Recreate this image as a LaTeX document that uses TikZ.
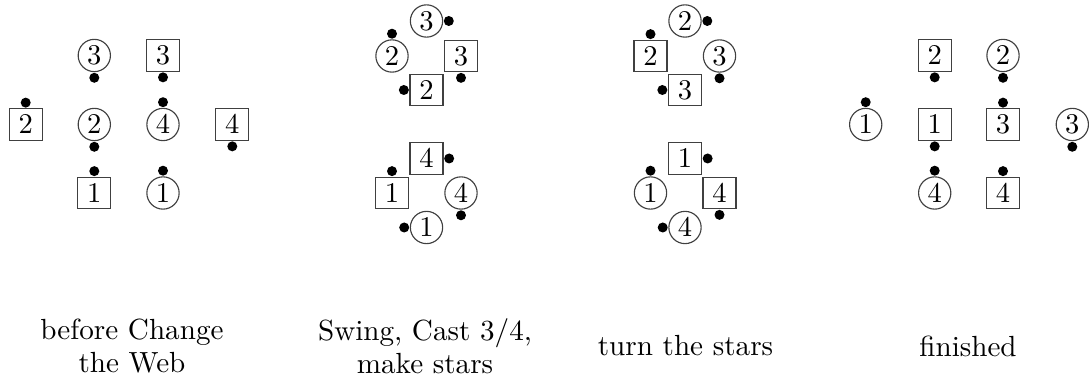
\documentclass[tikz,border=0pt]{standalone}
\usepackage{tikz}
\usetikzlibrary{positioning}
\tikzset{
  man/.style={draw=black!75, rectangle, line width=0.4pt, minimum width=11.55pt,
              minimum height=11pt, inner sep=0pt, font=\normalsize},
  woman/.style={draw=black!75, circle, line width=0.4pt, minimum size=11.3pt,
                inner sep=0pt, font=\normalsize},
  dot/.style={circle, fill=black, minimum size=3.5pt, inner sep=0pt},
  caption/.style={align=center, font=\fontsize{10.2}{11.55}\selectfont}
}
\begin{document}
\begin{tikzpicture}[x=0.35pt,y=-0.35pt]
  \useasboundingbox (0,0) rectangle (1089,381);
  % before Change the Web
  \node[woman] (bw3) at (94.3,55.5) {$3$};
  \node[man]   (bm3) at (163,55.5) {$3$};
  \node[man]   (bm2) at (25.7,124.5) {$2$};
  \node[woman] (bw2) at (94.3,124.5) {$2$};
  \node[woman] (bw4) at (163,124.5) {$4$};
  \node[man]   (bm4) at (232.3,124.5) {$4$};
  \node[man]   (bm1) at (94.3,193) {$1$};
  \node[woman] (bw1) at (163,193) {$1$};
  \node[dot,below=0pt of bw3] (bw3d) {};
  \node[dot,below=0pt of bm3] (bm3d) {};
  \node[dot,above=0pt of bm2] (bm2d) {};
  \node[dot,below=0pt of bw2] (bw2d) {};
  \node[dot,above=0pt of bw4] (bw4d) {};
  \node[dot,below=0pt of bm4] (bm4d) {};
  \node[dot,above=0pt of bm1] (bm1d) {};
  \node[dot,above=0pt of bw1] (bw1d) {};
  % Swing, Cast 3/4, make stars
  \node[woman] (sw3) at (426.5,21) {$3$};
  \node[woman] (sw2) at (392,56) {$2$};
  \node[man]   (sm3) at (461,56) {$3$};
  \node[man]   (sm2) at (426.5,90) {$2$};
  \node[man]   (sm4) at (426.5,158.5) {$4$};
  \node[man]   (sm1) at (392,193) {$1$};
  \node[woman] (sw4) at (461,193) {$4$};
  \node[woman] (sw1) at (426.5,227.5) {$1$};
  \node[dot,right=0pt of sw3] (sw3d) {};
  \node[dot,above=0pt of sw2] (sw2d) {};
  \node[dot,below=0pt of sm3] (sm3d) {};
  \node[dot,left=0pt of sm2] (sm2d) {};
  \node[dot,right=0pt of sm4] (sm4d) {};
  \node[dot,above=0pt of sm1] (sm1d) {};
  \node[dot,below=0pt of sw4] (sw4d) {};
  \node[dot,left=0pt of sw1] (sw1d) {};
  % turn the stars
  \node[woman] (tw2) at (685,21) {$2$};
  \node[man]   (tm2) at (650.5,56) {$2$};
  \node[woman] (tw3) at (719.5,56) {$3$};
  \node[man]   (tm3) at (685,90) {$3$};
  \node[man]   (tm1) at (685,158.5) {$1$};
  \node[woman] (tw1) at (650.5,193) {$1$};
  \node[man]   (tm4) at (719.5,193) {$4$};
  \node[woman] (tw4) at (685,227.5) {$4$};
  \node[dot,right=0pt of tw2] (tw2d) {};
  \node[dot,above=0pt of tm2] (tm2d) {};
  \node[dot,below=0pt of tw3] (tw3d) {};
  \node[dot,left=0pt of tm3] (tm3d) {};
  \node[dot,right=0pt of tm1] (tm1d) {};
  \node[dot,above=0pt of tw1] (tw1d) {};
  \node[dot,below=0pt of tm4] (tm4d) {};
  \node[dot,left=0pt of tw4] (tw4d) {};
  % finished
  \node[man]   (fm2) at (934.7,55.5) {$2$};
  \node[woman] (fw2) at (1003,55.5) {$2$};
  \node[woman] (fw1) at (865.7,124.5) {$1$};
  \node[man]   (fm1) at (934.7,124.5) {$1$};
  \node[man]   (fm3) at (1003,124.5) {$3$};
  \node[woman] (fw3) at (1072.3,124.5) {$3$};
  \node[woman] (fw4) at (934.7,193) {$4$};
  \node[man]   (fm4) at (1003,193) {$4$};
  \node[dot,below=0pt of fm2] (fm2d) {};
  \node[dot,below=0pt of fw2] (fw2d) {};
  \node[dot,above=0pt of fw1] (fw1d) {};
  \node[dot,below=0pt of fm1] (fm1d) {};
  \node[dot,above=0pt of fm3] (fm3d) {};
  \node[dot,below=0pt of fw3] (fw3d) {};
  \node[dot,above=0pt of fw4] (fw4d) {};
  \node[dot,above=0pt of fm4] (fm4d) {};
  % captions
  \node[caption] (bcap) at (132,346) {before Change\\the Web};
  \node[caption] (scap) at (425,346) {Swing, Cast 3/4,\\make stars};
  \node[caption] (tcap) at (685.5,346) {turn the stars};
  \node[caption] (fcap) at (968,346) {finished};
\end{tikzpicture}
\end{document}
